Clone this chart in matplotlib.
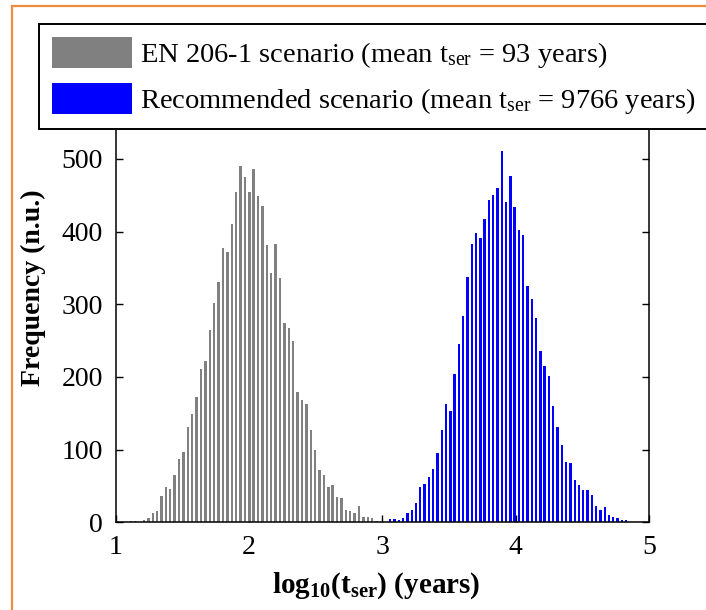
import matplotlib
matplotlib.use('Agg')
import matplotlib.pyplot as plt
from matplotlib.patches import Rectangle
import numpy as np

# ── Histogram counts ──
# EN 206-1 scenario (gray), bins spanning log10(t_ser) 1.098 .. 2.973
gray_range = (1.098, 2.973)
gray_counts = [2, 2, 1, 3, 6, 13, 15, 36, 49, 46,
               65, 87, 97, 131, 149, 172, 211, 222, 264, 302,
               331, 377, 372, 410, 454, 491, 475, 454, 486, 449,
               436, 381, 343, 383, 336, 274, 267, 249, 179, 169,
               163, 127, 99, 72, 65, 49, 51, 35, 33, 17,
               15, 13, 23, 7, 7, 6, 2]

# Recommended scenario (blue), bins spanning 3.011 .. 4.939
blue_range = (3.011, 4.939)
blue_counts = [1, 4, 4, 3, 6, 13, 17, 27, 49, 53,
               62, 74, 96, 127, 163, 153, 204, 245, 284, 338,
               383, 398, 391, 418, 444, 450, 460, 511, 441, 477,
               434, 402, 395, 325, 308, 281, 236, 215, 202, 160,
               131, 107, 83, 81, 58, 51, 44, 45, 37, 22,
               17, 21, 10, 7, 6, 3, 3, 1, 1, 1]

labels = [r'EN 206-1 scenario (mean $\mathregular{t_{ser}}$ = 93 years)',
          r'Recommended scenario (mean $\mathregular{t_{ser}}$ = 9766 years)']
colors = ['#808080', '#0000ff']

xticks = [1, 2, 3, 4, 5]
yticks = [0, 100, 200, 300, 400, 500]

plt.rcParams['font.family'] = ['Liberation Serif', 'DejaVu Serif']
plt.rcParams['mathtext.fontset'] = 'custom'
plt.rcParams['mathtext.rm'] = 'Liberation Serif'
plt.rcParams['mathtext.it'] = 'Liberation Serif:italic'
plt.rcParams['mathtext.bf'] = 'Liberation Serif:bold'

W, H = 706, 610
fig = plt.figure(figsize=(W / 100, H / 100), dpi=100)
fig.patch.set_facecolor('white')

# axes placed in pixel terms of the reference
x0, x1, y0 = 115.5, 649.3, 522.3
ymax = 560
ppu = (y0 - 159.0) / 500.0
ax = fig.add_axes([x0 / W, (H - y0) / H, (x1 - x0) / W, ymax * ppu / H])


def draw_hist(counts, rng, color, label):
    edges = np.linspace(rng[0], rng[1], len(counts) + 1)
    centers = 0.5 * (edges[:-1] + edges[1:])
    width = (edges[1] - edges[0]) * 0.55
    return ax.bar(centers, counts, width=width, color=color, linewidth=0,
                  label=label, zorder=2)


h1 = draw_hist(gray_counts, gray_range, colors[0], labels[0])
h2 = draw_hist(blue_counts, blue_range, colors[1], labels[1])

ax.set_xlim(1, 5)
ax.set_ylim(0, ymax)
ax.set_xticks(xticks)
ax.set_yticks(yticks)
ax.tick_params(direction='in', length=5, width=1, labelsize=20, pad=9,
               left=True, right=True, top=False, colors='black')
for s in ax.spines.values():
    s.set_linewidth(1.1)
ax.spines['top'].set_visible(False)

ax.set_xlabel(r'$\mathbf{log_{10}(t_{ser})}$ (years)', fontsize=21, fontweight='bold')
ax.xaxis.set_label_coords(0.488, -0.118)
ax.set_ylabel('Frequency (n.u.)', fontsize=20, fontweight='bold')
ax.yaxis.set_label_coords(-0.13, 0.576)

# legend frame runs past the right edge of the picture
leg = fig.legend(handles=[h1, h2], labels=labels, loc='upper left',
                 bbox_to_anchor=(39 / W, 0, 1.0, 1 - 24 / H), mode='expand',
                 fontsize=20.5, handlelength=2.8, handleheight=1.3,
                 handletextpad=0.3, labelspacing=0.45, borderpad=0.45,
                 borderaxespad=0, fancybox=False, framealpha=1,
                 edgecolor='black')
leg.get_frame().set_linewidth(1.4)

# orange frame around the picture
fig.patches.append(Rectangle((12 / W, -0.1), 1.2, 1.1 - 6 / H,
                             transform=fig.transFigure, fill=False,
                             edgecolor='#f08a3c', linewidth=1.6, zorder=10))

plt.savefig('out.png', dpi=100, facecolor='white')
plt.close()
